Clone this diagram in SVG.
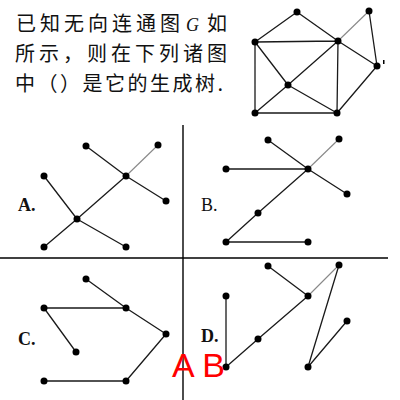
<svg xmlns="http://www.w3.org/2000/svg" width="400" height="400" viewBox="0 0 400 400">
<style>
.e{stroke:#1a1a1a;stroke-width:1.3;fill:none}
.g{stroke:#888;stroke-width:1.1;fill:none}
.n{fill:#000}
.q{font-family:"Noto Sans CJK SC","Noto Sans",sans-serif;font-size:20px;fill:#111}
.lab{font-family:"Liberation Serif",serif;font-size:18px;fill:#111}
.bd{font-weight:bold}
.div{stroke:#000;stroke-width:1.4}
.red{font-family:"Liberation Sans",Arial,sans-serif;font-size:34px;fill:#ff0000}
</style>
<rect width="400" height="400" fill="#fff"/>
<g id="question">
<text class="q" x="16" y="31" textLength="164" lengthAdjust="spacing">已知无向连通图</text>
<text x="186" y="31" style="font-family:'Liberation Serif',serif;font-style:italic;font-size:18px;fill:#111">G</text>
<text class="q" x="207" y="31">如</text>
<text class="q" x="15" y="61" textLength="212" lengthAdjust="spacing">所示，则在下列诸图</text>
<text class="q" x="15" y="91" textLength="208" lengthAdjust="spacing">中（）是它的生成树.</text>
</g>
<g id="dividers">
<line class="div" x1="183" y1="125" x2="183" y2="400"/>
<line class="div" x1="0" y1="258" x2="388" y2="258"/>
</g>
<g id="connectors">
<path class="e" d="M297,12 L255,42 M297,12 L338,41 M255,42 L338,41 M369,11 L377,66 M338,41 L377,66 M255,42 L255,113 M255,42 L288,85 M338,41 L288,85 M338,41 L337,113 M288,85 L255,113 M288,85 L337,113 M255,113 L337,113 M337,113 L377,66"/>
<path class="g" d="M369,11 L338,41"/>
<path class="e" d="M86,146 L126,176 M126,176 L166,201 M126,176 L77,219 M44,176 L77,219 M77,219 L44,247 M77,219 L126,247"/>
<path class="g" d="M158,145 L126,176"/>
<path class="e" d="M268,140 L308,169 M226,169 L308,169 M308,169 L347,194 M308,169 L258,213 M258,213 L226,242 M226,242 L308,242"/>
<path class="g" d="M339,139 L308,169"/>
<path class="e" d="M86,279 L126,308 M44,308 L126,308 M126,308 L166,334 M44,308 L76,352 M166,334 L126,381 M44,381 L126,381"/>
<path class="e" d="M268,266 L308,296 M308,296 L258,339 M258,339 L226,367 M226,296 L226,367 M339,265 L308,367 M308,367 L347,321"/>
<path class="g" d="M339,265 L308,296"/>
</g>
<g id="graphG" class="n">
<circle cx="297" cy="12" r="3.5"/><circle cx="369" cy="11" r="3.5"/><circle cx="255" cy="42" r="3.5"/><circle cx="338" cy="41" r="3.5"/><circle cx="377" cy="66" r="3.5"/><circle cx="288" cy="85" r="3.5"/><circle cx="255" cy="113" r="3.5"/><circle cx="337" cy="113" r="3.5"/>
<rect x="383" y="60" width="1.5" height="4"/>
</g>
<g id="optionA">
<text class="lab bd" x="18" y="211">A.</text>
<g class="n"><circle cx="86" cy="146" r="3.5"/><circle cx="158" cy="145" r="3.5"/><circle cx="126" cy="176" r="3.5"/><circle cx="44" cy="176" r="3.5"/><circle cx="166" cy="201" r="3.5"/><circle cx="77" cy="219" r="3.5"/><circle cx="44" cy="247" r="3.5"/><circle cx="126" cy="247" r="3.5"/></g>
</g>
<g id="optionB">
<text class="lab" x="201" y="211">B.</text>
<g class="n"><circle cx="268" cy="140" r="3.5"/><circle cx="339" cy="139" r="3.5"/><circle cx="226" cy="169" r="3.5"/><circle cx="308" cy="169" r="3.5"/><circle cx="347" cy="194" r="3.5"/><circle cx="258" cy="213" r="3.5"/><circle cx="226" cy="242" r="3.5"/><circle cx="308" cy="242" r="3.5"/></g>
</g>
<g id="optionC">
<text class="lab bd" x="18" y="345">C.</text>
<g class="n"><circle cx="86" cy="279" r="3.5"/><circle cx="44" cy="308" r="3.5"/><circle cx="126" cy="308" r="3.5"/><circle cx="166" cy="334" r="3.5"/><circle cx="76" cy="352" r="3.5"/><circle cx="44" cy="381" r="3.5"/><circle cx="126" cy="381" r="3.5"/></g>
</g>
<g id="optionD">
<text class="lab bd" x="201" y="342">D.</text>
<g class="n"><circle cx="268" cy="266" r="3.5"/><circle cx="339" cy="265" r="3.5"/><circle cx="226" cy="296" r="3.5"/><circle cx="308" cy="296" r="3.5"/><circle cx="347" cy="321" r="3.5"/><circle cx="258" cy="339" r="3.5"/><circle cx="226" cy="367" r="3.5"/><circle cx="308" cy="367" r="3.5"/></g>
</g>
<g id="answer">
<text class="red" x="172" y="377">A B</text>
</g>
</svg>
